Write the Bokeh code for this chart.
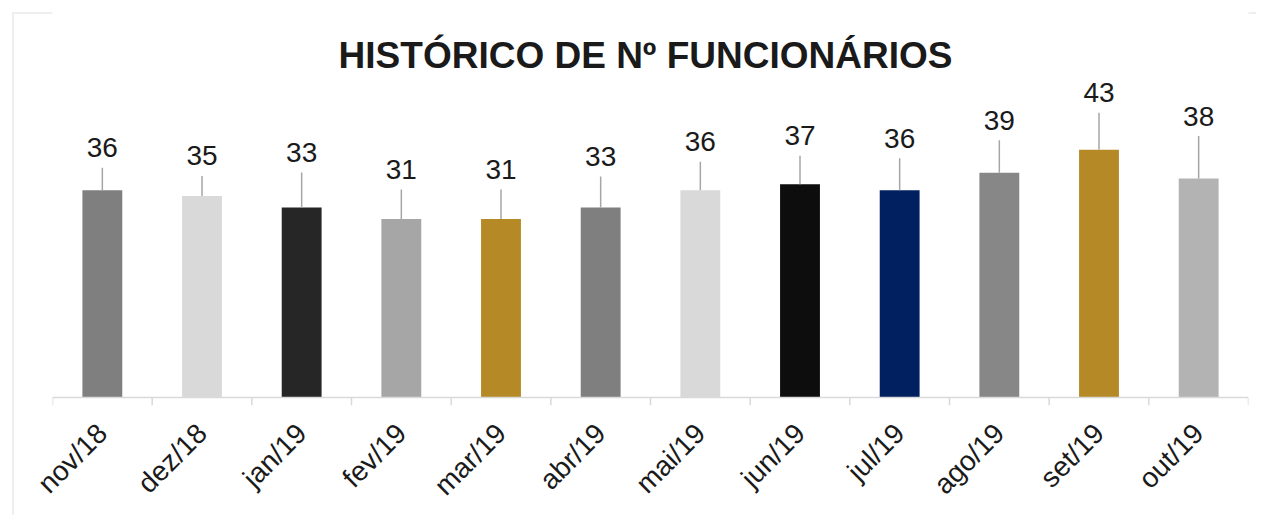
import math
from bokeh.plotting import figure
from bokeh.models import ColumnDataSource, Range1d, FactorRange, Span, Label
from bokeh.transform import dodge
from bokeh.core.properties import value
from bokeh.embed import file_html
from bokeh.resources import INLINE

# ---- data ----
months = ["nov/18", "dez/18", "jan/19", "fev/19", "mar/19", "abr/19",
          "mai/19", "jun/19", "jul/19", "ago/19", "set/19", "out/19"]
employees = [36, 35, 33, 31, 31, 33, 36, 37, 36, 39, 43, 38]
title_text = "HISTÓRICO DE Nº FUNCIONÁRIOS"

# ---- style ----
bar_colors = ["#7f7f7f", "#d9d9d9", "#262626", "#a6a6a6", "#b58a26", "#7f7f7f",
              "#d9d9d9", "#0d0d0d", "#002060", "#878787", "#b58a26", "#b3b3b3"]
label_lift_px = [42.5, 40, 55, 49.5, 49.5, 51, 48.5, 48.5, 52, 52.5, 57, 62.5]
FONT = "Liberation Sans"

src = ColumnDataSource(dict(
    month=months,
    value=employees,
    color=bar_colors,
    label=[str(v) for v in employees],
    yoff=[-l for l in label_lift_px],
    lead=[l - 20 for l in label_lift_px],
))

p = figure(width=1256, height=515,
           x_range=FactorRange(factors=months),
           y_range=Range1d(-1.385, 67.53),
           output_backend="svg", toolbar_location=None,
           y_axis_location=None,
           min_border_left=52, min_border_right=8,
           min_border_top=8, min_border_bottom=109)
p.outline_line_color = None
p.xgrid.grid_line_color = None
p.ygrid.grid_line_color = None
p.background_fill_color = "white"
p.border_fill_color = None
p.styles = {
    "background": "linear-gradient(#efefef, #efefef) 12px 12px / 100% 2px no-repeat, "
                  "linear-gradient(#efefef, #efefef) 12px 12px / 2px 100% no-repeat, white"
}

p.vbar(x="month", top="value", bottom=0, width=0.4, fill_color="color",
       line_color=None, source=src)

# leader lines from bar top up to the data label
p.ray(x="month", y="value", length="lead", angle=math.pi / 2,
      length_units="screen", line_color="#a6a6a6", line_width=1.5, source=src)

p.text(x="month", y="value", text="label", y_offset="yoff",
       text_align="center", text_baseline="middle",
       text_font=value(FONT), text_font_size="28px", text_color="#1a1a1a",
       source=src)

# baseline + category boundary ticks
p.add_layout(Span(location=0, dimension="width", line_color="#d9d9d9", line_width=1.5))
p.ray(x=dodge("month", -0.5, range=p.x_range), y=0, length=8, angle=-math.pi / 2,
      length_units="screen", line_color="#d9d9d9", line_width=1.5, source=src)
last_src = ColumnDataSource(dict(month=[months[-1]]))
p.ray(x=dodge("month", 0.5, range=p.x_range), y=0, length=8, angle=-math.pi / 2,
      length_units="screen", line_color="#d9d9d9", line_width=1.5, source=last_src)

ax = p.xaxis[0]
ax.axis_line_color = None
ax.major_tick_line_color = None
ax.major_tick_out = 0
ax.major_tick_in = 0
ax.minor_tick_line_color = None
ax.major_label_orientation = math.pi / 4
ax.major_label_standoff = 23
ax.major_label_text_font = FONT
ax.major_label_text_font_size = "28px"
ax.major_label_text_color = "#1a1a1a"

p.add_layout(Label(x=6, y=59.4, text=title_text, text_align="center",
                   text_baseline="middle", text_font=FONT,
                   text_font_size="37px", text_font_style="bold",
                   text_color="#1a1a1a", x_offset=-5))

open("out.html", "w").write(file_html(p, INLINE))
